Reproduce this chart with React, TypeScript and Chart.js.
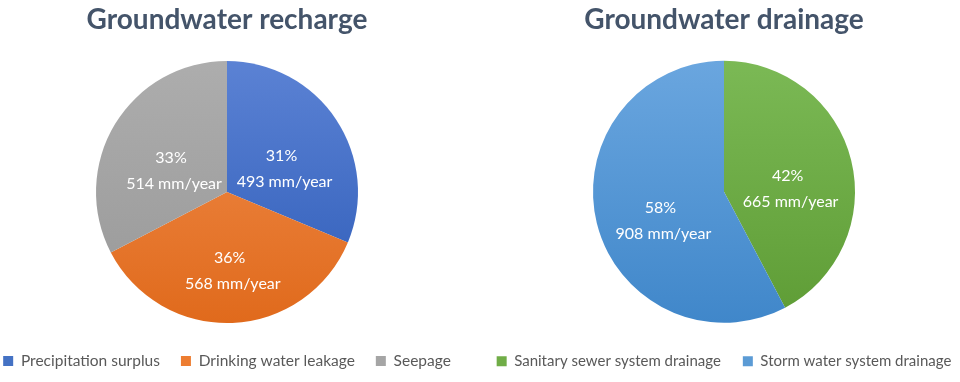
import { useEffect, useRef } from "react";
import { Chart, registerables } from "chart.js";

Chart.register(...registerables);

// ---- data ----
const rechargeTitle = "Groundwater recharge";
const rechargeLabels = ["Precipitation surplus", "Drinking water leakage", "Seepage"];
const rechargeValues = [493, 568, 514];
const rechargeColors = ["#4472C4", "#ED7D31", "#A5A5A5"];
const rechargeTop = ["#5B82D4", "#F18E4E", "#ADADAD"];
const rechargeBottom = ["#2E5CB8", "#E06A1C", "#989898"];

const drainageTitle = "Groundwater drainage";
const drainageLabels = ["Sanitary sewer system drainage", "Storm water system drainage"];
const drainageValues = [665, 908];
const drainageColors = ["#70AD47", "#5B9BD5"];
const drainageTop = ["#7BB955", "#6AA6DF"];
const drainageBottom = ["#5E9C35", "#4087CA"];

const unit = "mm/year";
const RADIUS = 131;
const FONT = "Lato, 'Open Sans', sans-serif";

const sliceLabels = {
  id: "sliceLabels",
  afterDatasetsDraw(chart: any) {
    const meta = chart.getDatasetMeta(0);
    const values: number[] = chart.data.datasets[0].data;
    const total = values.reduce((a, b) => a + b, 0);
    const ctx = chart.ctx;
    ctx.save();
    ctx.fillStyle = "#ffffff";
    ctx.font = `16px ${FONT}`;
    ctx.textAlign = "center";
    ctx.textBaseline = "middle";
    meta.data.forEach((arc: any, i: number) => {
      const p = arc.tooltipPosition(true);
      ctx.fillText(`${Math.round((values[i] / total) * 100)}%`, p.x, p.y);
      ctx.fillText(`${values[i]} ${unit}`, p.x + 3, p.y + 26);
    });
    ctx.restore();
  },
};

function PieChart(props: {
  title: string;
  labels: string[];
  values: number[];
  colors: string[];
  tops: string[];
  bottoms: string[];
  left: number;
  width: number;
  legendSize: number;
  legendPad: number;
}) {
  const ref = useRef<HTMLCanvasElement>(null);
  useEffect(() => {
    const { title, labels, values, colors, tops, bottoms, legendSize, legendPad } = props;
    const chart = new Chart(ref.current!, {
      type: "pie",
      data: {
        labels,
        datasets: [
          {
            data: values,
            borderWidth: 0,
            radius: RADIUS,
            backgroundColor: (c: any) => {
              const ch = c.chart;
              const area = ch.chartArea;
              const i = c.dataIndex ?? 0;
              if (!area) return colors[i];
              const cy = (area.top + area.bottom) / 2;
              const g = ch.ctx.createLinearGradient(0, cy - RADIUS, 0, cy + RADIUS);
              g.addColorStop(0, tops[i]);
              g.addColorStop(1, bottoms[i]);
              return g;
            },
          },
        ],
      },
      options: {
        responsive: false,
        maintainAspectRatio: false,
        animation: false,
        layout: { padding: { top: 0, bottom: 3.25, left: 0, right: 0 } },
        plugins: {
          title: {
            display: true,
            text: title,
            color: "#44546A",
            font: { family: FONT, size: 28, weight: "bold", lineHeight: 1.2 },
            padding: { top: 3.2, bottom: 15 },
          },
          legend: {
            display: true,
            position: "bottom",
            labels: {
              boxWidth: 10,
              boxHeight: 10,
              padding: legendPad,
              color: "#595959",
              font: { family: FONT, size: legendSize },
              generateLabels: () =>
                labels.map((text, i) => ({
                  text,
                  fillStyle: colors[i],
                  strokeStyle: colors[i],
                  lineWidth: 0,
                  hidden: false,
                  index: i,
                  fontColor: "#595959",
                })),
            },
          },
          tooltip: { enabled: false },
        },
      },
      plugins: [sliceLabels],
    });
    return () => chart.destroy();
  }, []);
  return (
    <canvas
      ref={ref}
      width={props.width}
      height={382}
      style={{ position: "absolute", left: props.left, top: 0, width: props.width, height: 382 }}
    />
  );
}

export default function App() {
  return (
    <div
      style={{
        position: "fixed",
        left: 0,
        top: 0,
        width: 960,
        height: 382,
        overflow: "hidden",
        background: "#ffffff",
      }}
    >
      <PieChart
        title={rechargeTitle}
        labels={rechargeLabels}
        values={rechargeValues}
        colors={rechargeColors}
        tops={rechargeTop}
        bottoms={rechargeBottom}
        left={227 - 270}
        width={540}
        legendSize={15.5}
        legendPad={21}
      />
      <PieChart
        title={drainageTitle}
        labels={drainageLabels}
        values={drainageValues}
        colors={drainageColors}
        tops={drainageTop}
        bottoms={drainageBottom}
        left={724 - 270}
        width={540}
        legendSize={15}
        legendPad={22}
      />
    </div>
  );
}
